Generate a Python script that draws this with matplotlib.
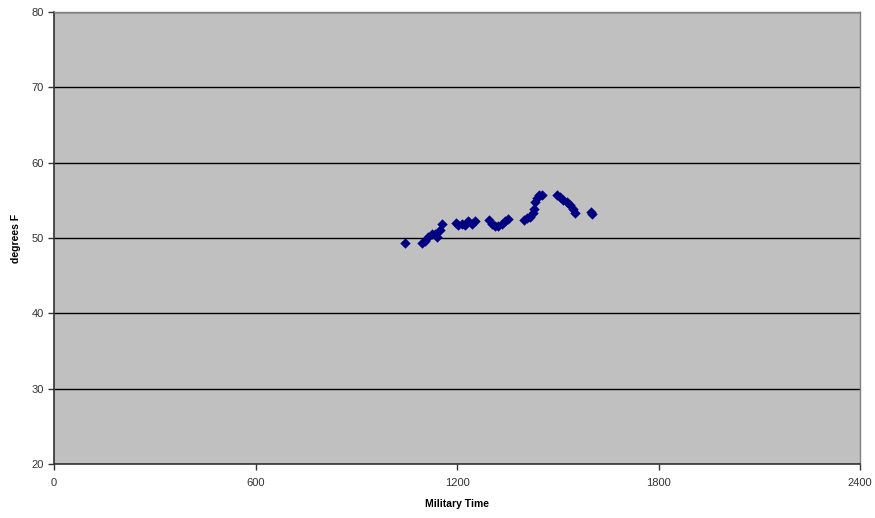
import matplotlib.pyplot as plt

# temperature readings (military time, degrees F)
times = [1045, 1095, 1105, 1114, 1125, 1135, 1140, 1150, 1155,
         1196, 1204, 1214, 1224, 1234, 1244, 1254,
         1295, 1303, 1313, 1323, 1333, 1343, 1353,
         1398, 1408, 1417, 1425, 1429, 1432, 1437, 1444, 1452,
         1497, 1507, 1517, 1527, 1537, 1545, 1552,
         1598, 1603]
temps = [49.3, 49.4, 49.6, 50.2, 50.5, 50.6, 50.2, 51.1, 51.8,
         52.0, 51.7, 51.9, 51.7, 52.2, 51.9, 52.2,
         52.4, 51.8, 51.6, 51.6, 51.9, 52.2, 52.5,
         52.4, 52.6, 52.8, 53.3, 53.9, 54.8, 55.3, 55.7, 55.7,
         55.7, 55.5, 55.1, 54.8, 54.4, 53.8, 53.3,
         53.4, 53.2]

x_ticks = [0, 600, 1200, 1800, 2400]
y_ticks = [20, 30, 40, 50, 60, 70, 80]

plt.rcParams['font.family'] = ['Liberation Sans', 'DejaVu Sans']

fig = plt.figure(figsize=(8.75, 5.18), dpi=100)
ax = fig.add_axes([0.0617, 0.1042, 0.9212, 0.8726])
ax.set_facecolor('#c0c0c0')

ax.scatter(times, temps, marker='D', s=28, color='#000080', zorder=3,
           linewidths=0)

ax.set_xlim(0, 2400)
ax.set_ylim(20, 80)
ax.set_xticks(x_ticks)
ax.set_yticks(y_ticks)
ax.yaxis.grid(True, color='black', linewidth=1.0)
ax.set_axisbelow(True)

ax.tick_params(direction='out', length=4, width=1, labelsize=8,
               labelcolor='#333333', color='#333333')
ax.tick_params(axis='x', pad=6)
for side in ['left', 'bottom']:
    ax.spines[side].set_color('#333333')
    ax.spines[side].set_linewidth(1.2)
for side in ['top', 'right']:
    ax.spines[side].set_color('#808080')
    ax.spines[side].set_linewidth(1.0)

ax.set_xlabel('Military Time', fontsize=7.5, fontweight='bold', labelpad=8)
ax.set_ylabel('degrees F', fontsize=7.5, fontweight='bold', labelpad=7)

fig.savefig('out.png', dpi=100)
